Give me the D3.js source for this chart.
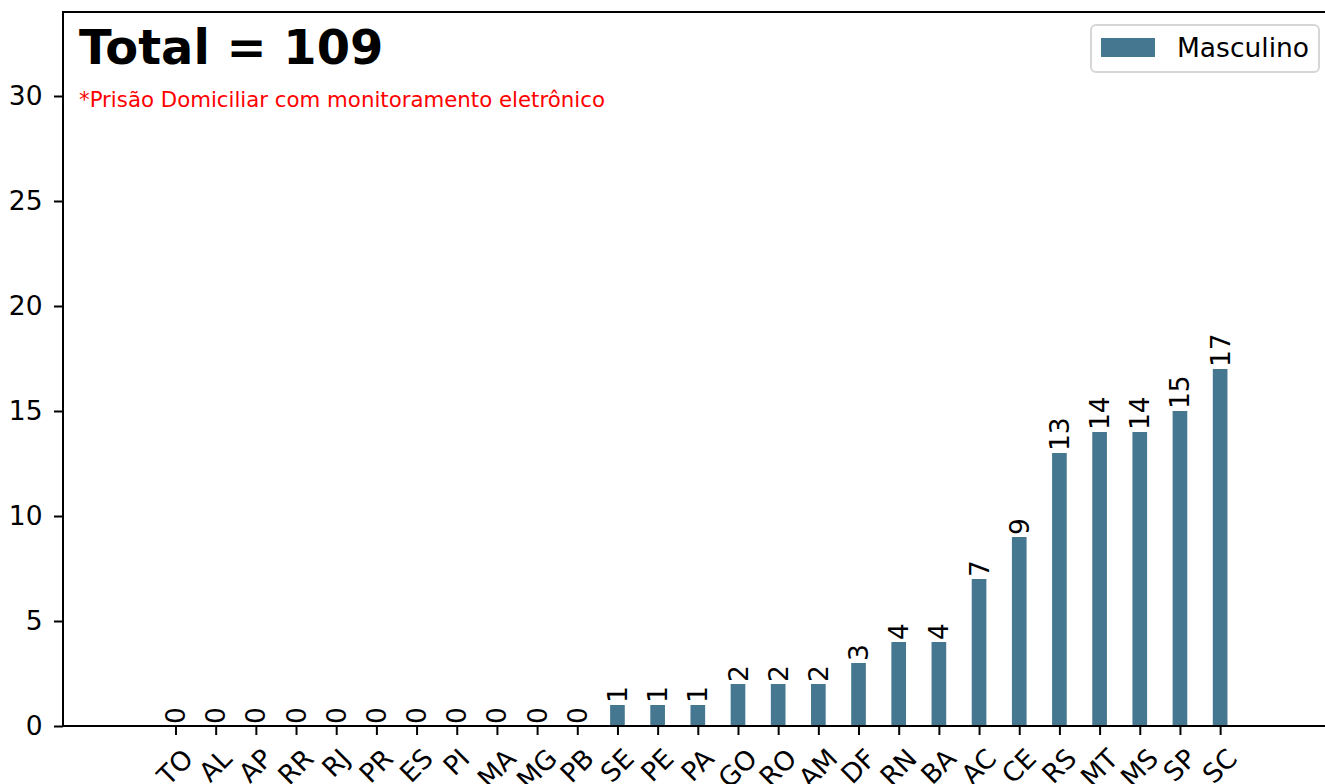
<!DOCTYPE html>
<html>
<head>
<meta charset="utf-8">
<script src="https://cdn.jsdelivr.net/npm/d3@7"></script>
<style>
  html, body { margin: 0; padding: 0; background: #fff; }
  svg { display: block; font-family: "DejaVu Sans", sans-serif; }
</style>
</head>
<body>
<svg id="chart" width="1325" height="784"></svg>
<script>
const states = ["TO","AL","AP","RR","RJ","PR","ES","PI","MA","MG","PB","SE","PE","PA","GO","RO","AM","DF","RN","BA","AC","CE","RS","MT","MS","SP","SC"];
const masculino = [0,0,0,0,0,0,0,0,0,0,0,1,1,1,2,2,2,3,4,4,7,9,13,14,14,15,17];
const yTicks = [0,5,10,15,20,25,30];
const seriesName = "Masculino";
const totalLabel = "Total = 109";
const noteLabel = "*Prisão Domiciliar com monitoramento eletrônico";

(function() {
const svg = d3.select("#chart");
const mLeft = 63, mRight = 1327, mTop = 12, mBottom = 726;
const barColor = "#457890";
const fs = 26.5;

const x = d3.scaleLinear().domain([-2.8, 28.66]).range([mLeft, mRight]);
const y = d3.scaleLinear().domain([0, 34]).range([mBottom, mTop]);
const step = x(1) - x(0);
const bw = step * 0.365;

// bars
svg.append("g").selectAll("rect").data(masculino).join("rect")
  .attr("x", (d, i) => x(i) - bw / 2)
  .attr("y", d => y(d))
  .attr("width", bw)
  .attr("height", d => y(0) - y(d))
  .attr("fill", barColor);

// value labels
svg.append("g").selectAll("text").data(masculino).join("text")
  .attr("transform", (d, i) => `translate(${x(i) + fs * 0.36},${y(d) - 2}) rotate(-90)`)
  .attr("text-anchor", "start")
  .attr("font-size", fs)
  .attr("fill", "#000")
  .text(d => d);

// spines
svg.append("rect").attr("x", mLeft).attr("y", mTop).attr("width", mRight - mLeft).attr("height", mBottom - mTop)
  .attr("fill", "none").attr("stroke", "#000").attr("stroke-width", 2);

// y axis
const yAxis = d3.axisLeft(y).tickValues(yTicks).tickSize(9).tickPadding(11.5).tickFormat(d3.format("d"));
const gy = svg.append("g").attr("transform", `translate(${mLeft},0)`).call(yAxis);
gy.select(".domain").remove();
gy.selectAll(".tick line").attr("stroke", "#000").attr("stroke-width", 2);
gy.selectAll(".tick text").attr("font-size", fs).attr("font-family", "DejaVu Sans").attr("fill", "#000");

// x axis
const xAxis = d3.axisBottom(x).tickValues(d3.range(states.length)).tickSize(9).tickFormat(i => states[i]);
const gx = svg.append("g").attr("transform", `translate(0,${mBottom})`).call(xAxis);
gx.select(".domain").remove();
gx.selectAll(".tick line").attr("stroke", "#000").attr("stroke-width", 2);
gx.selectAll(".tick text").each(function() {
  const t = d3.select(this);
  t.attr("font-size", fs).attr("font-family", "DejaVu Sans").attr("fill", "#000")
   .attr("dy", null).attr("y", 0).attr("text-anchor", "middle").attr("dominant-baseline", "central");
  const bb = this.getBBox();
  const w = bb.width, h = fs * 0.9;
  const half = (w + h) / (2 * Math.SQRT2);
  t.attr("transform", `translate(-1,${9 + 9 + half + 1}) rotate(-45)`);
});

// annotations
svg.append("text").attr("x", 79).attr("y", 64).attr("font-size", 47.9).attr("font-weight", "bold")
  .attr("fill", "#000").text(totalLabel);
svg.append("text").attr("x", 79).attr("y", 107).attr("font-size", 21.3).attr("fill", "red").text(noteLabel);

// legend
const lg = svg.append("g");
lg.append("rect").attr("x", 1091).attr("y", 25).attr("width", 228).attr("height", 47).attr("rx", 5)
  .attr("fill", "#fff").attr("stroke", "#d6d6d6").attr("stroke-width", 2);
lg.append("rect").attr("x", 1101).attr("y", 38).attr("width", 54).attr("height", 19).attr("fill", barColor);
lg.append("text").attr("x", 1177).attr("y", 57).attr("font-size", fs).attr("fill", "#000").text(seriesName);
})();
</script>
</body>
</html>
